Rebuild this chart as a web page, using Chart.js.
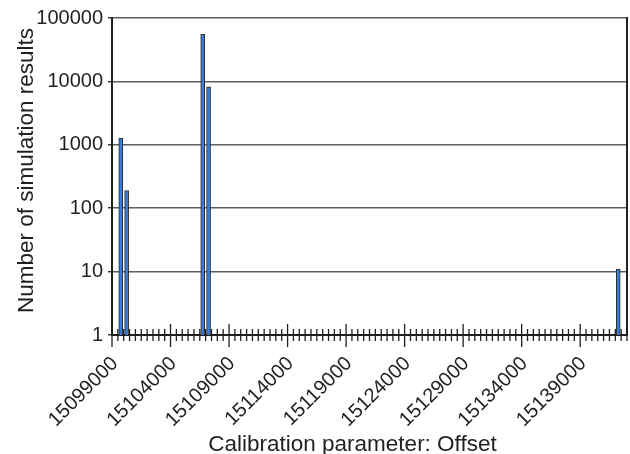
<!DOCTYPE html>
<html>
<head>
<meta charset="utf-8">
<script src="https://cdn.jsdelivr.net/npm/chart.js@4"></script>
<style>
  html, body { margin: 0; padding: 0; background: #ffffff; }
  #wrap { width: 630px; height: 454px; }
</style>
</head>
<body>
<div id="wrap"><canvas id="chart" width="630" height="454"></canvas></div>
<script>
// Offset values tested (category axis), in steps of 500
const offsets = [
  15099000, 15099500, 15100000, 15100500, 15101000, 15101500, 15102000, 15102500, 15103000, 15103500,
  15104000, 15104500, 15105000, 15105500, 15106000, 15106500, 15107000, 15107500, 15108000, 15108500,
  15109000, 15109500, 15110000, 15110500, 15111000, 15111500, 15112000, 15112500, 15113000, 15113500,
  15114000, 15114500, 15115000, 15115500, 15116000, 15116500, 15117000, 15117500, 15118000, 15118500,
  15119000, 15119500, 15120000, 15120500, 15121000, 15121500, 15122000, 15122500, 15123000, 15123500,
  15124000, 15124500, 15125000, 15125500, 15126000, 15126500, 15127000, 15127500, 15128000, 15128500,
  15129000, 15129500, 15130000, 15130500, 15131000, 15131500, 15132000, 15132500, 15133000, 15133500,
  15134000, 15134500, 15135000, 15135500, 15136000, 15136500, 15137000, 15137500, 15138000, 15138500,
  15139000, 15139500, 15140000, 15140500, 15141000, 15141500, 15142000, 15142500
];

// Offsets that produced simulation results, and how many
const barOffsets = [15099500, 15100000, 15106500, 15107000, 15142000];
const barCounts  = [1280, 190, 55500, 8200, 11];

// Axis tick values
const countTicks = [1, 10, 100, 1000, 10000, 100000];
const offsetTickLabels = [15099000, 15104000, 15109000, 15114000, 15119000, 15124000, 15129000, 15134000, 15139000];

// Axis titles
const xTitle = 'Calibration parameter: Offset';
const yTitle = 'Number of simulation results';

const counts = offsets.map(o => {
  const i = barOffsets.indexOf(o);
  return i < 0 ? null : barCounts[i];
});

const FONT = "'Liberation Sans', Arial, sans-serif";
const INK = '#231f20';

// Right frame edge, category tick marks crossing the x axis, and axis titles
const frame = {
  id: 'frame',
  afterDatasetsDraw(chart) {
    const { ctx, chartArea: a, scales: { x } } = chart;
    ctx.save();
    ctx.strokeStyle = INK;
    ctx.lineWidth = 2;
    ctx.beginPath();
    ctx.moveTo(a.right, a.top - 1);
    ctx.lineTo(a.right, a.bottom);
    ctx.stroke();

    const step = (x.right - x.left) / offsets.length;
    const y0 = a.bottom;
    ctx.lineWidth = 1.3;
    for (let k = 0; k <= offsets.length; k++) {
      const px = x.left + k * step;
      const major = offsetTickLabels.includes(offsets[k]);
      ctx.beginPath();
      if (major) {
        ctx.moveTo(px, y0 - 11);
        ctx.lineTo(px, y0 + 12);
      } else {
        ctx.moveTo(px, y0 - 6);
        ctx.lineTo(px, y0 + 6);
      }
      ctx.stroke();
    }
    ctx.restore();
  },
  afterDraw(chart) {
    const { ctx, chartArea: a } = chart;
    ctx.save();
    ctx.fillStyle = INK;
    ctx.font = '22.5px ' + FONT;
    ctx.textAlign = 'center';
    ctx.textBaseline = 'alphabetic';
    ctx.fillText(xTitle, (a.left + a.right) / 2 - 17, chart.height - 3.5);

    ctx.translate(33, (a.top + a.bottom) / 2 - 6);
    ctx.rotate(-Math.PI / 2);
    ctx.fillText(yTitle, 0, 0);
    ctx.restore();
  }
};

new Chart(document.getElementById('chart'), {
  type: 'bar',
  data: {
    labels: offsets,
    datasets: [{
      data: counts,
      backgroundColor: '#3b7bd4',
      borderColor: '#2a2a2a',
      borderWidth: 1,
      borderSkipped: 'bottom',
      barThickness: 4
    }]
  },
  options: {
    responsive: false,
    animation: false,
    devicePixelRatio: 1,
    layout: { padding: { left: 4, right: 3, top: 18, bottom: 4 } },
    plugins: { legend: { display: false }, tooltip: { enabled: false } },
    scales: {
      x: {
        type: 'category',
        offset: true,
        grid: { display: false, drawTicks: true, tickLength: 12 },
        border: { display: true, color: INK, width: 2 },
        ticks: {
          autoSkip: false,
          minRotation: 45,
          maxRotation: 45,
          padding: 5,
          labelOffset: 0,
          color: INK,
          font: { family: FONT, size: 20 },
          callback: function (value, index) {
            const v = offsets[index];
            return offsetTickLabels.includes(v) ? String(v) : '';
          }
        },
        title: { display: false },
        afterFit: s => { s.height = 115; s.paddingRight = 0; }
      },
      y: {
        type: 'logarithmic',
        min: 1,
        max: 100000,
        afterBuildTicks: s => { s.ticks = countTicks.map(v => ({ value: v })); },
        grid: {
          color: '#5e5e5e',
          lineWidth: 1.5,
          drawTicks: true,
          tickLength: 4,
          tickColor: INK,
          tickWidth: 1.3
        },
        border: { display: true, color: INK, width: 2 },
        ticks: {
          padding: 5,
          color: INK,
          font: { family: FONT, size: 20 },
          callback: v => String(v)
        },
        title: { display: false },
        afterFit: s => { s.width = 108; }
      }
    }
  },
  plugins: [frame]
});
</script>
</body>
</html>
